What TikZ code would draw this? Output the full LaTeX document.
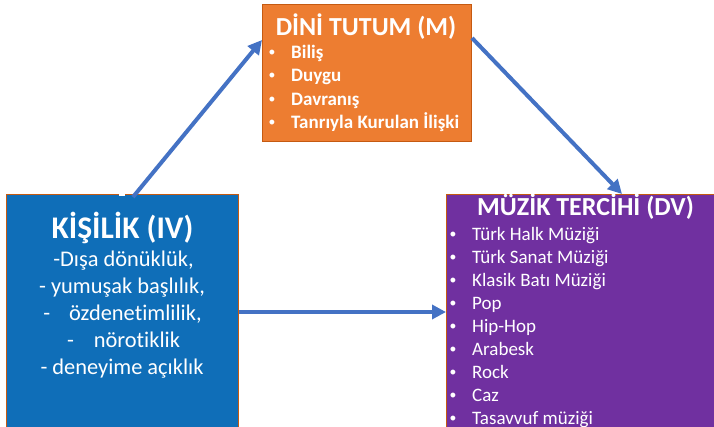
\documentclass[tikz,border=0pt]{standalone}
\usepackage{fontspec}
\setmainfont{Carlito}[Ligatures=NoCommon]
\newfontfamily\bulfont{Liberation Sans}
\usetikzlibrary{arrows.meta}
\definecolor{ivblue}{HTML}{0F6EB8}
\definecolor{morange}{HTML}{ED7D31}
\definecolor{dvpurple}{HTML}{7030A0}
\definecolor{edgec}{HTML}{C55A11}
\definecolor{arrowblue}{HTML}{4472C4}
\begin{document}
\begin{tikzpicture}[x=1pt,y=-1pt,
  box/.style={draw=edgec, line width=1pt, inner sep=0pt, anchor=north west},
  lbl/.style={text=white, inner sep=0pt, anchor=base},
  itm/.style={text=white, inner sep=0pt, anchor=base west},
  bul/.style={text=white, inner sep=0pt, anchor=base},
  conn/.style={draw=arrowblue, line width=4pt, -{Triangle[length=14pt,width=14pt]}},
  ivtitle/.style={font=\bfseries\fontsize{31.5}{36}\selectfont},
  ivbody/.style={font=\fontsize{22.4}{27}\selectfont},
  mtitle/.style={font=\bfseries\fontsize{26}{30}\selectfont},
  mitem/.style={font=\bfseries\fontsize{19}{22}\selectfont},
  dvitem/.style={font=\fontsize{19}{22}\selectfont},
  bulfnt/.style={font=\bulfont\fontsize{18}{22}\selectfont}]
\useasboundingbox (0,0) rectangle (714,426);
\clip (0,0) rectangle (714,426);
% boxes
\node[box, fill=ivblue, minimum width=232pt, minimum height=270pt] (iv) at (6,194) {};
\node[box, fill=morange, minimum width=209pt, minimum height=137pt] (m) at (262,4) {};
\node[box, fill=dvpurple, minimum width=300pt, minimum height=260pt] (dv) at (446,194) {};
\fill[white] (119,192.5) rectangle (125,196);
% connectors
\draw[conn] ([xshift=127pt,yshift=-3pt]iv.north west) -- ([yshift=-36pt]m.north west);
\draw[conn] ([yshift=-34pt]m.north east) -- ([xshift=176pt]dv.north west);
\draw[conn] ([yshift=-118pt]iv.north east) -- ([yshift=-118pt]dv.north west);
% IV text
\node[lbl, ivtitle] (ivt) at (122.5,238) {KİŞİLİK (IV)};
\node[lbl, ivbody] (iv1) at (123.5,266) {-Dışa dönüklük,};
\node[lbl, ivbody] (iv2) at (122,293) {- yumuşak başlılık,};
\node[lbl, ivbody] (iv3) at (122.5,320) {-\hspace{19pt}özdenetimlilik,};
\node[lbl, ivbody] (iv4) at (123.5,347) {-\hspace{20pt}nörotiklik};
\node[lbl, ivbody] (iv5) at (122,374) {- deneyime açıklık};
% M text
\node[lbl, mtitle] (mt) at (366,35) {DİNİ TUTUM (M)};
\foreach \t [count=\i] in {Biliş,Duygu,Davranış,Tanrıyla Kurulan İlişki}{
  \node[bul, bulfnt] (mb\i) at (272,{58+23.5*(\i-1)}) {•};
  \node[itm, mitem] (mi\i) at (291,{58+23.5*(\i-1)}) {\t};
}
% DV text
\node[lbl, mtitle] (dvt) at (585.5,215) {MÜZİK TERCİHİ (DV)};
\foreach \t [count=\i] in {Türk Halk Müziği,Türk Sanat Müziği,Klasik Batı Müziği,Pop,Hip-Hop,Arabesk,Rock,Caz,Tasavvuf müziği}{
  \node[bul, bulfnt] (db\i) at (453,{240+23.1*(\i-1)}) {•};
  \node[itm, dvitem] (di\i) at (472,{240+23.1*(\i-1)}) {\t};
}
\end{tikzpicture}
\end{document}
